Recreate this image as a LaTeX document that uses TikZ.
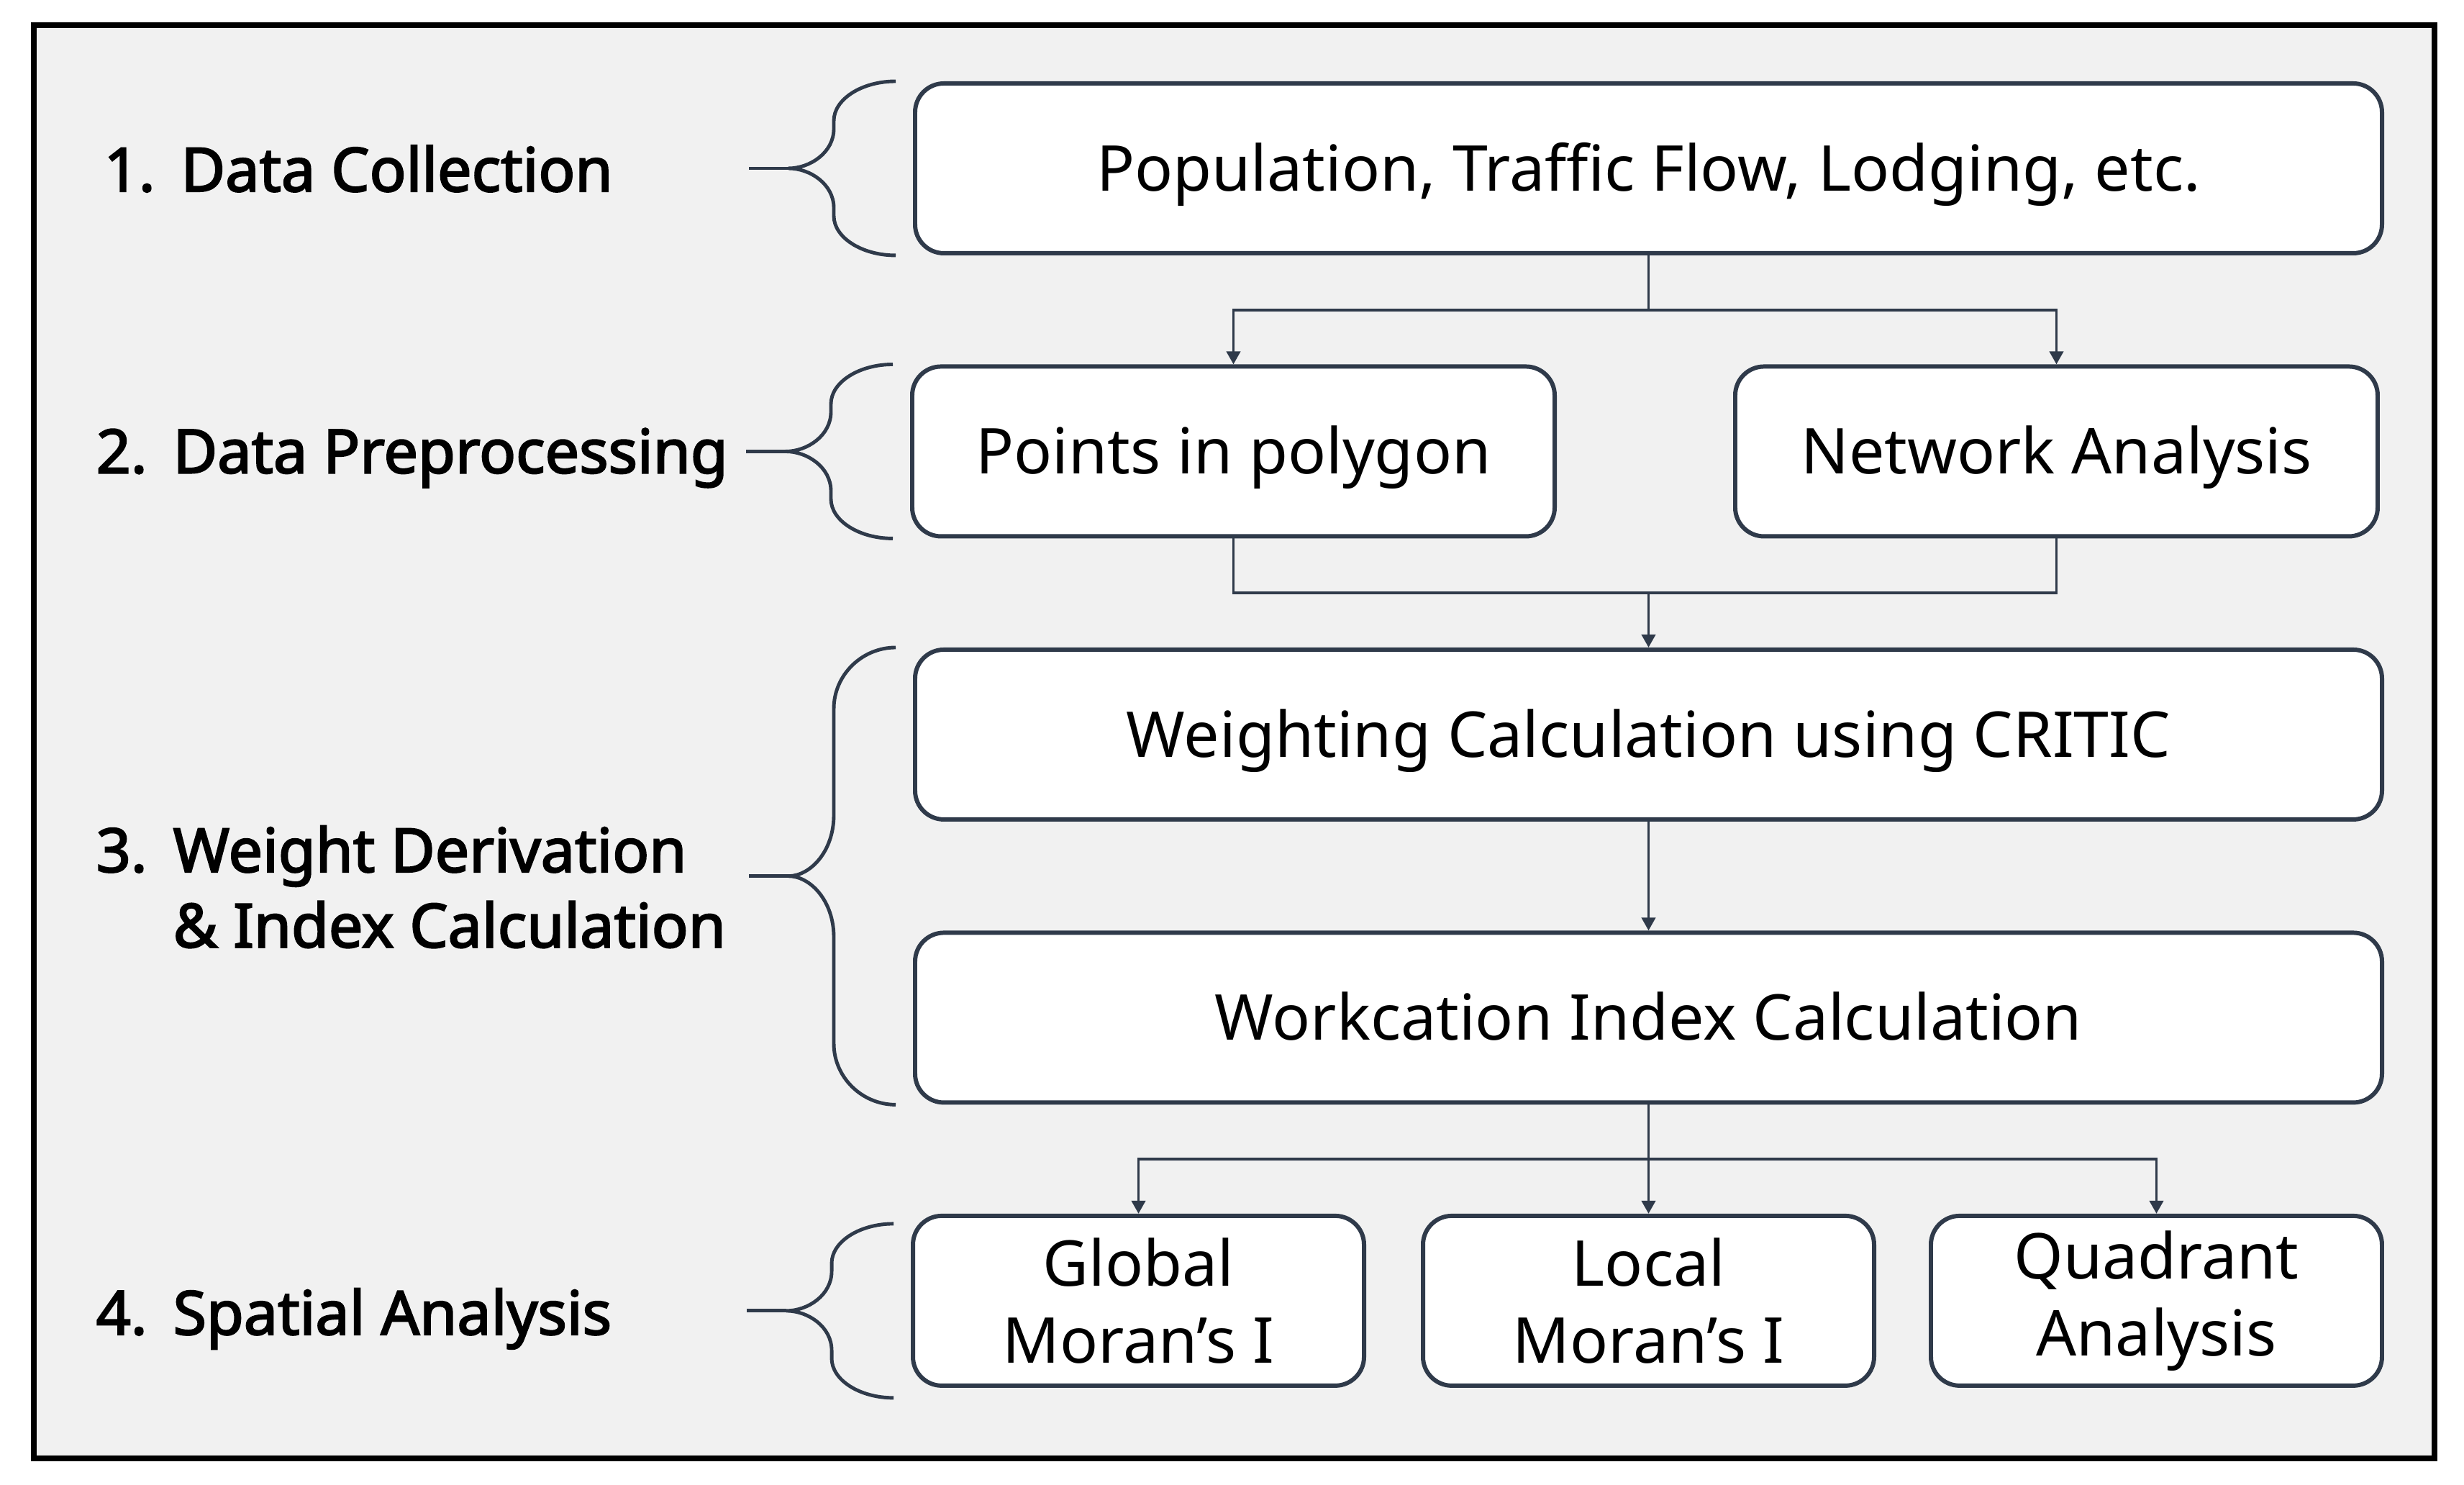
\documentclass[tikz,border=0pt]{standalone}
\usepackage{fontspec}
\setmainfont{Noto Sans}
\newfontfamily\stagefont{Noto Sans}[FakeBold=2.6]
\usetikzlibrary{positioning,calc,arrows.meta}

\definecolor{slate}{HTML}{2F3A4A}
\definecolor{panelgray}{HTML}{F1F1F1}

% left brace in front of a stage: top end, bottom end, curve size
\newcommand{\stagebrace}[3]{%
  \path (#1) coordinate (bt) (#2) coordinate (bb) ($(bt)!0.5!(bb)$) coordinate (bm);
  \draw [bracket] ($(bm)+(-2.04,0)$) -- ($(bm)+(-1.49,0)$);
  \draw [bracket] (bt) .. controls +(-0.47,0) and +(0,0.55*#3) .. ($(bt)+(-0.86,-#3)$)
    -- ($(bm)+(-0.86,#3)$) .. controls +(0,-0.6*#3) and +(0.3,0) .. ($(bm)+(-1.49,0)$)
    .. controls +(0.3,0) and +(0,0.6*#3) .. ($(bm)+(-0.86,-#3)$)
    -- ($(bb)+(-0.86,#3)$) .. controls +(0,-0.55*#3) and +(-0.47,0) .. (bb);
}

\begin{document}
\begin{tikzpicture}[node distance=1.515cm, >={Triangle[length=0.18cm,width=0.19cm]}]
    % Styles
    \tikzstyle{stagebox} = [rectangle, draw=slate, line width=1.7pt, fill=white,
        rounded corners=0.4cm, minimum height=2.36cm,
        text centered, font=\fontsize{25}{30.5}\selectfont]
    \tikzstyle{widebox} = [stagebox, minimum width=20.39cm, text height=19pt, text depth=1.2pt]
    \tikzstyle{midbox} = [widebox, minimum width=8.93cm]
    \tikzstyle{smallbox} = [stagebox, minimum width=6.27cm, align=center]
    \tikzstyle{steplabel} = [anchor=base west, inner sep=0pt, align=left,
        font=\stagefont\fontsize{24}{29.8}\selectfont]
    \tikzstyle{link} = [draw=slate, line width=1.1pt]
    \tikzstyle{arrow} = [link, ->]
    \tikzstyle{bracket} = [draw=slate, line width=1.4pt]
    \tikzstyle{panel} = [draw=black, line width=2.3pt, fill=panelgray]

    \useasboundingbox (0,0) rectangle (34.25,20.64);
    \draw [panel] (0.47,0.37) rectangle (33.84,20.29);

    % === Boxes ===
    \node [widebox] (collect) at (22.915,18.30) {Population, Traffic Flow, Lodging, etc.};
    \node [midbox, below=of collect, xshift=-5.77cm] (pip) {Points in polygon};
    \node [midbox, right=2.45cm of pip] (network) {Network Analysis};
    \node [widebox, below=5.45cm of collect] (critic) {Weighting Calculation using CRITIC};
    \node [widebox, below=of critic] (index) {Workcation Index Calculation};
    \node [smallbox, below=of index] (localmoran) {Local\\Moran’s I};
    \node [smallbox, left=0.76cm of localmoran] (globalmoran) {Global\\Moran’s I};
    \node [smallbox, right=0.73cm of localmoran] (quadrant) {Quadrant\\Analysis};

    % === Connectors ===
    \coordinate (split1) at ($(collect.south)+(0,-0.76)$);
    \coordinate (join2) at ($(critic.north)+(0,0.76)$);
    \coordinate (split4) at ($(index.south)+(0,-0.76)$);
    \draw [link] (collect) -- (split1);
    \draw [arrow] (split1) -| (pip.north);
    \draw [arrow] (split1) -| (network.north);
    \draw [link] (pip.south) |- (join2) -| (network.south);
    \draw [arrow] (join2) -- (critic);
    \draw [arrow] (critic) -- (index);
    \draw [link] (index) -- (split4);
    \draw [arrow] (split4) -| (globalmoran.north);
    \draw [arrow] (split4) -- (localmoran);
    \draw [arrow] (split4) -| (quadrant.north);

    % === Braces ===
    \stagebrace{[xshift=-0.24cm]collect.north west}{[xshift=-0.24cm]collect.south west}{0.55}
    \coordinate (mid1) at (bm);
    \stagebrace{[xshift=-0.24cm]pip.north west}{[xshift=-0.24cm]pip.south west}{0.55}
    \coordinate (mid2) at (bm);
    \stagebrace{[xshift=-0.24cm]critic.north west}{[xshift=-0.24cm]index.south west}{0.85}
    \coordinate (mid3) at (bm);
    \stagebrace{[xshift=-0.24cm,yshift=-0.14cm]globalmoran.north west}{[xshift=-0.24cm,yshift=-0.14cm]globalmoran.south west}{0.55}
    \coordinate (mid4) at (bm);

    % === Labels ===
    \coordinate (labelx) at (1.33,0);
    \node [steplabel, xshift=0.11cm, yshift=-0.32cm] (stage1) at (labelx |- mid1) {\makebox[1.07cm][l]{1.}Data Collection};
    \node [steplabel, yshift=-0.30cm] (stage2) at (labelx |- mid2) {\makebox[1.07cm][l]{2.}Data Preprocessing};
    \node [steplabel, yshift=-0.99cm] (stage3) at (labelx |- mid3) {\makebox[1.07cm][l]{3.}Weight Derivation\\\hspace*{1.07cm}\& Index Calculation};
    \node [steplabel, yshift=-0.33cm] (stage4) at (labelx |- mid4) {\makebox[1.07cm][l]{4.}Spatial Analysis};

\end{tikzpicture}
\end{document}
